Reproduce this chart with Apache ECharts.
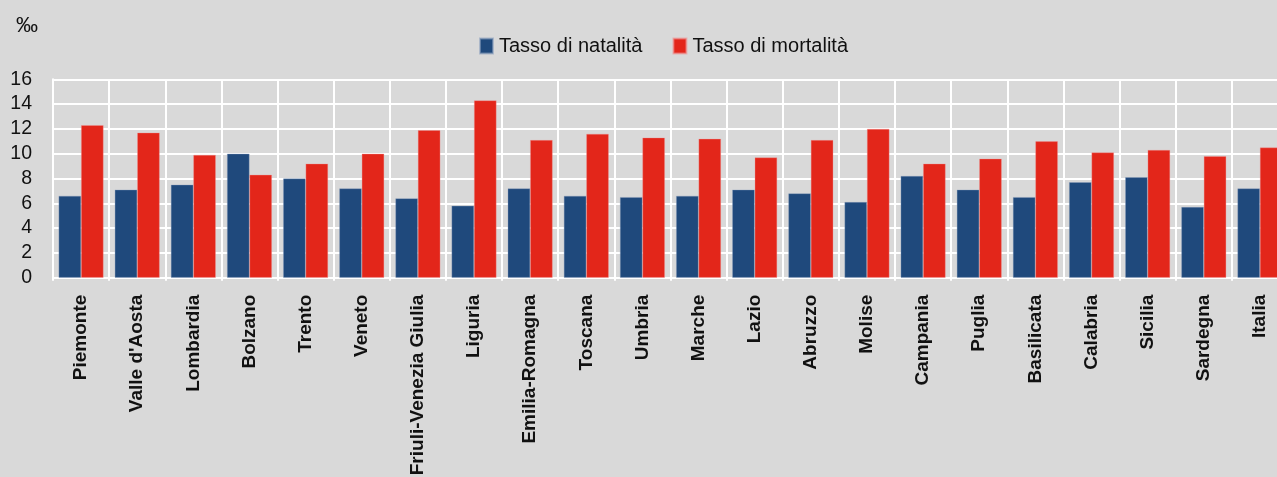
<!DOCTYPE html>
<html>
<head>
<meta charset="utf-8">
<script src="https://cdn.jsdelivr.net/npm/echarts@6/dist/echarts.min.js"></script>
<style>
html,body{margin:0;padding:0;background:#d9d9d9;}
#c{width:1277px;height:477px;}
</style>
</head>
<body>
<div id="c"></div>
<script>
const categories = ["Piemonte","Valle d'Aosta","Lombardia","Bolzano","Trento","Veneto","Friuli-Venezia Giulia","Liguria","Emilia-Romagna","Toscana","Umbria","Marche","Lazio","Abruzzo","Molise","Campania","Puglia","Basilicata","Calabria","Sicilia","Sardegna","Italia"];
const natalita = [6.6,7.1,7.5,10.0,8.0,7.2,6.4,5.8,7.2,6.6,6.5,6.6,7.1,6.8,6.1,8.2,7.1,6.5,7.7,8.1,5.7,7.2];
const mortalita = [12.3,11.7,9.9,8.3,9.2,10.0,11.9,14.3,11.1,11.6,11.3,11.2,9.7,11.1,12.0,9.2,9.6,11.0,10.1,10.3,9.8,10.5];
const seriesNames = ["Tasso di natalità","Tasso di mortalità"];
const yTicks = {min:0, max:16, interval:2};

const font = "'Liberation Sans', Arial, sans-serif";
const chart = echarts.init(document.getElementById('c'), null, {renderer:'canvas'});
chart.setOption({
  backgroundColor:'#d9d9d9',
  animation:false,
  textStyle:{fontFamily:font},
  title:{text:'‰', left:11, top:10, textStyle:{fontFamily:font, fontSize:22, fontWeight:'normal', color:'#111'}},
  legend:{
    top:36, left:479, padding:0, itemWidth:13, itemHeight:15, itemGap:30,
    icon:'rect',
    textStyle:{fontFamily:font, fontSize:20, color:'#111', padding:[0,0,0,1]},
    data:seriesNames
  },
  grid:{left:53, top:79.3, bottom:199.3, width:1235, containLabel:false, outerBoundsMode:'none'},
  xAxis:{
    type:'category', data:categories, boundaryGap:true,
    axisLine:{show:true, lineStyle:{color:'#ffffff', width:2}},
    axisTick:{show:true, length:3, lineStyle:{color:'#ffffff', width:2}},
    splitLine:{show:true, lineStyle:{color:'#ffffff', width:2}},
    axisLabel:{rotate:90, interval:0, margin:17, fontFamily:font, fontSize:19, fontWeight:'bold', color:'#111'}
  },
  yAxis:{
    type:'value', min:yTicks.min, max:yTicks.max, interval:yTicks.interval,
    axisLine:{show:true, lineStyle:{color:'#ffffff', width:2}},
    axisTick:{show:false},
    splitLine:{show:true, lineStyle:{color:'#ffffff', width:2}},
    axisLabel:{margin:21, fontFamily:font, fontSize:19.5, color:'#111'}
  },
  series:[
    {name:seriesNames[0], type:'bar', data:natalita, barGap:'0%', barCategoryGap:'20%',
     itemStyle:{color:'#1f497c', borderColor:'rgba(140,160,190,0.6)', borderWidth:0.6}},
    {name:seriesNames[1], type:'bar', data:mortalita, barGap:'0%', barCategoryGap:'20%',
     itemStyle:{color:'#e3261a', borderColor:'rgba(240,150,150,0.6)', borderWidth:0.6}}
  ]
});
</script>
</body>
</html>
